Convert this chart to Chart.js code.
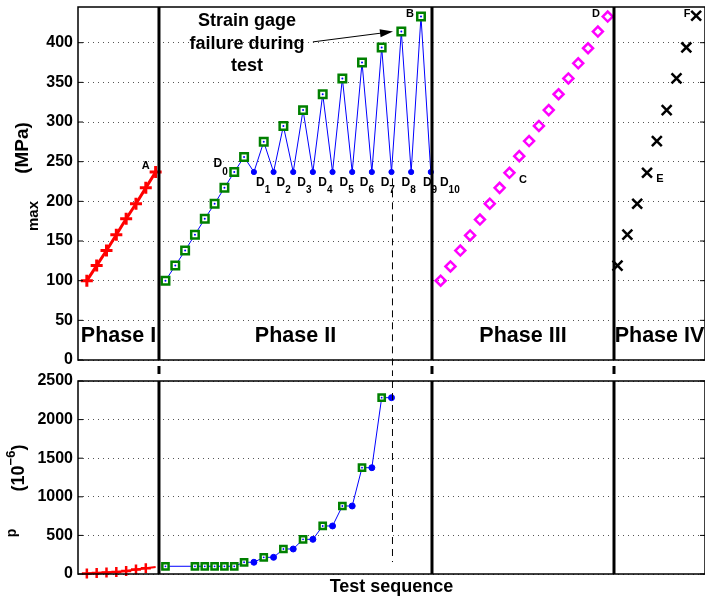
<!DOCTYPE html>
<html>
<head>
<meta charset="utf-8">
<script src="https://cdn.jsdelivr.net/npm/chart.js@4.4.1/dist/chart.umd.min.js"></script>
<style>
  html, body { margin: 0; padding: 0; background: #fff; }
  #wrap { position: relative; width: 705px; height: 603px; }
  canvas { position: absolute; left: 0; }
  #top { top: 0; }
  #bottom { top: 366px; }
</style>
</head>
<body>
<div id="wrap">
  <canvas id="top" width="705" height="376"></canvas>
  <canvas id="bottom" width="705" height="237"></canvas>
</div>
<script>
// valori: x = indice della sequenza di prova
const seqPhaseI = [1, 2, 3, 4, 5, 6, 7, 8];
const stressPhaseI = [100, 119, 138, 158, 178, 197, 217, 237];

const seqRamp = [9, 10, 11, 12, 13, 14, 15, 16];
const stressRamp = [100, 119, 138, 158, 178, 197, 217, 237];
const seqPeak = [17, 19, 21, 23, 25, 27, 29, 31, 33, 35];
const stressPeak = [256, 275, 295, 315, 335, 355, 375, 394, 414, 433];
const seqValley = [18, 20, 22, 24, 26, 28, 30, 32, 34, 36];
const stressValley = [237, 237, 237, 237, 237, 237, 237, 237, 237, 237];

const seqPhaseIII = [37, 38, 39, 40, 41, 42, 43, 44, 45, 46, 47, 48, 49, 50, 51, 52, 53, 54];
const stressPhaseIII = [100, 118, 138, 157, 177, 197, 217, 236, 257, 276, 295, 315, 335, 355, 374, 393, 414, 433];
const seqPhaseIV = [55, 56, 57, 58, 59, 60, 61, 62, 63];
const stressPhaseIV = [119, 158, 197, 236, 276, 315, 355, 394, 434];

// deformazione plastica (1e-6)
const strainSeqI = [1, 2, 3, 4, 5, 6, 7, 8];
const strainI = [8, 12, 18, 26, 40, 58, 75, 90];
const strainSeqSquare = [9, 12, 13, 14, 15, 16, 17, 19, 21, 23, 25, 27, 29, 31];
const strainSquare = [100, 100, 100, 100, 100, 100, 152, 216, 324, 449, 622, 881, 1377, 2284];
const strainSeqCircle = [18, 20, 22, 24, 26, 28, 30, 32];
const strainCircle = [152, 216, 324, 449, 622, 881, 1377, 2284];

const stressTicks = [0, 50, 100, 150, 200, 250, 300, 350, 400];
const strainTicks = [0, 500, 1000, 1500, 2000, 2500];

const phaseNames = ['Phase I', 'Phase II', 'Phase III', 'Phase IV'];
const phaseEdges = [8.34, 36.12, 54.64];
const failureSeq = 32.1;

// etichette (coordinate in unita' dati)
const pointLetters = [
  { t: 'A', x: 7.0, y: 245 }, { t: 'B', x: 33.88, y: 436 }, { t: 'C', x: 45.38, y: 227 },
  { t: 'D', x: 52.8, y: 436 }, { t: 'E', x: 59.32, y: 228 }, { t: 'F', x: 62.07, y: 436 }
];
const dLabels = [
  { n: '0', x: 14.34, y: 247 }, { n: '1', x: 18.65, y: 224 }, { n: '2', x: 20.75, y: 224 },
  { n: '3', x: 22.85, y: 224 }, { n: '4', x: 24.99, y: 224 }, { n: '5', x: 27.16, y: 224 },
  { n: '6', x: 29.22, y: 224 }, { n: '7', x: 31.34, y: 224 }, { n: '8', x: 33.47, y: 224 },
  { n: '9', x: 35.64, y: 224 }, { n: '10', x: 37.37, y: 224 }
];
const noteLines = ['Strain gage', 'failure during', 'test'];
const noteAt = { x: 17.3, y: 421 };
const arrowFrom = { x: 24.0, y: 401 };
const arrowTo = { x: 32.15, y: 414 };

const X_MIN = 0.1, X_MAX = 63.9;
const FONT = '"Liberation Sans", Arial, Helvetica, sans-serif';
const RED = '#ff0000', BLUE = '#0000ff', GREEN = '#008000', MAGENTA = '#ff00ff', GRID = '#555';

Chart.defaults.font.family = FONT;
Chart.defaults.color = '#000';

const pts = (xs, ys) => xs.map((x, i) => ({ x, y: ys[i] }));

const squaresTop = pts(seqRamp, stressRamp).concat(pts(seqPeak, stressPeak));
const blueLineTop = squaresTop.concat(pts(seqValley, stressValley)).sort((a, b) => a.x - b.x);
const squaresBottom = pts(strainSeqSquare, strainSquare);
const blueLineBottom = squaresBottom.concat(pts(strainSeqCircle, strainCircle)).sort((a, b) => a.x - b.x);

function line(ctx, x1, y1, x2, y2) {
  ctx.beginPath(); ctx.moveTo(x1, y1); ctx.lineTo(x2, y2); ctx.stroke();
}

function label(ctx, t, x, y, size, align, baseline) {
  ctx.font = 'bold ' + size + 'px ' + FONT;
  ctx.textAlign = align || 'center';
  ctx.textBaseline = baseline || 'middle';
  ctx.fillText(t, x, y);
}

// testo ruotato composto da pezzi (per pedici/apici)
function rotatedRuns(ctx, cx, cy, runs) {
  ctx.save();
  ctx.translate(cx, cy);
  ctx.rotate(-Math.PI / 2);
  let total = 0;
  runs.forEach(r => { ctx.font = 'bold ' + r.size + 'px ' + FONT; r.w = ctx.measureText(r.t).width; total += r.w; });
  let x = -total / 2;
  ctx.textAlign = 'left'; ctx.textBaseline = 'alphabetic';
  runs.forEach(r => { ctx.font = 'bold ' + r.size + 'px ' + FONT; ctx.fillText(r.t, x, r.dy || 0); x += r.w; });
  ctx.restore();
}

function frame(ctx, a, yScale, ticks) {
  ctx.lineWidth = 1.5;
  ctx.strokeStyle = '#000';
  ctx.strokeRect(a.left, a.top, a.right - a.left, a.bottom - a.top);
  ctx.lineWidth = 1;
  ticks.forEach(v => {
    const py = yScale.getPixelForValue(v);
    line(ctx, a.left, py, a.left + 5, py);
    line(ctx, a.right - 5, py, a.right, py);
  });
}

function phaseLines(ctx, a, xScale, withGap) {
  ctx.strokeStyle = '#000';
  ctx.lineWidth = 3;
  phaseEdges.forEach(v => {
    const px = xScale.getPixelForValue(v);
    line(ctx, px, a.top, px, a.bottom);
    if (withGap) line(ctx, px, a.bottom + 6, px, a.bottom + 14);
  });
}

const topDecor = {
  id: 'topDecor',
  afterDatasetsDraw(chart) {
    const { ctx, chartArea: a, scales: { x, y } } = chart;
    ctx.save();
    ctx.fillStyle = '#000';
    ctx.strokeStyle = '#000';

    ctx.lineWidth = 1;
    ctx.setLineDash([7, 5]);
    const fx = x.getPixelForValue(failureSeq);
    line(ctx, fx, y.getPixelForValue(229), fx, chart.height);
    ctx.setLineDash([]);

    phaseLines(ctx, a, x, true);
    frame(ctx, a, y, stressTicks);

    const edges = [X_MIN].concat(phaseEdges, [X_MAX]);
    phaseNames.forEach((n, i) => {
      const px = (x.getPixelForValue(edges[i]) + x.getPixelForValue(edges[i + 1])) / 2;
      label(ctx, n, px, a.bottom - 18, 21.5, 'center', 'alphabetic');
    });

    pointLetters.forEach(p => label(ctx, p.t, x.getPixelForValue(p.x), y.getPixelForValue(p.y), 11));

    dLabels.forEach(d => {
      const px = x.getPixelForValue(d.x), py = y.getPixelForValue(d.y);
      label(ctx, 'D', px, py, 12);
      const w = ctx.measureText('D').width;
      label(ctx, d.n, px + w / 2, py + 8, 10, 'left');
    });

    const nx = x.getPixelForValue(noteAt.x), ny = y.getPixelForValue(noteAt.y);
    noteLines.forEach((t, i) => label(ctx, t, nx, ny + i * 22.5, 18, 'center', 'alphabetic'));

    const x1 = x.getPixelForValue(arrowFrom.x), y1 = y.getPixelForValue(arrowFrom.y);
    const x2 = x.getPixelForValue(arrowTo.x), y2 = y.getPixelForValue(arrowTo.y);
    const ang = Math.atan2(y2 - y1, x2 - x1);
    ctx.lineWidth = 1;
    line(ctx, x1, y1, x2 - 10 * Math.cos(ang), y2 - 10 * Math.sin(ang));
    ctx.beginPath();
    ctx.moveTo(x2, y2);
    ctx.lineTo(x2 - 13 * Math.cos(ang) + 4 * Math.sin(ang), y2 - 13 * Math.sin(ang) - 4 * Math.cos(ang));
    ctx.lineTo(x2 - 13 * Math.cos(ang) - 4 * Math.sin(ang), y2 - 13 * Math.sin(ang) + 4 * Math.cos(ang));
    ctx.closePath();
    ctx.fill();

    rotatedRuns(ctx, 28, 148, [{ t: '(MPa)', size: 19 }]);
    rotatedRuns(ctx, 38, 216, [{ t: 'max', size: 15 }]);
    ctx.restore();
  }
};

const bottomDecor = {
  id: 'bottomDecor',
  afterDatasetsDraw(chart) {
    const { ctx, chartArea: a, scales: { x, y } } = chart;
    ctx.save();
    ctx.fillStyle = '#000';
    ctx.strokeStyle = '#000';
    ctx.lineWidth = 1;
    ctx.setLineDash([7, 5]);
    const fx = x.getPixelForValue(failureSeq);
    line(ctx, fx, a.top, fx, y.getPixelForValue(155));
    ctx.setLineDash([]);

    phaseLines(ctx, a, x, false);
    frame(ctx, a, y, strainTicks);

    rotatedRuns(ctx, 16, 167, [{ t: 'p', size: 14 }]);
    rotatedRuns(ctx, 24, 102, [{ t: '(10', size: 18 }, { t: '\u22126', size: 13, dy: -9 }, { t: ')', size: 18 }]);
    ctx.restore();
  }
};

function yAxis(max, ticks) {
  return {
    min: 0, max: max,
    afterBuildTicks: s => { s.ticks = ticks.map(v => ({ value: v })); },
    afterFit: s => { s.width = 78; s.paddingTop = 0; s.paddingBottom = 0; },
    grid: { color: GRID, lineWidth: 1, drawTicks: false },
    border: { display: false, dash: [1, 4] },
    ticks: { color: '#000', font: { size: 16, weight: 'bold' }, padding: 5, callback: v => String(v) }
  };
}

const common = {
  responsive: false,
  animation: false,
  events: [],
  plugins: { legend: { display: false }, tooltip: { enabled: false } }
};

new Chart(document.getElementById('top'), {
  type: 'scatter',
  data: {
    datasets: [
      { data: pts(seqPhaseI, stressPhaseI), showLine: true, borderColor: RED, borderWidth: 3,
        pointStyle: 'cross', pointRadius: 6, pointBorderWidth: 3, pointBorderColor: RED, order: 1 },
      { data: blueLineTop, showLine: true, borderColor: BLUE, borderWidth: 1, pointRadius: 0, order: 6 },
      { data: pts(seqValley, stressValley), pointStyle: 'circle', pointRadius: 2.6,
        pointBackgroundColor: BLUE, pointBorderColor: BLUE, pointBorderWidth: 1, order: 5 },
      { data: squaresTop, pointStyle: 'rect', pointRadius: 5.3, pointBorderWidth: 2.5,
        pointBorderColor: GREEN, pointBackgroundColor: '#fff', order: 4 },
      { data: squaresTop, pointRadius: 1, pointBackgroundColor: BLUE, pointBorderWidth: 0, order: 3 },
      { data: pts(seqPhaseIII, stressPhaseIII), pointStyle: 'rectRot', pointRadius: 5, pointBorderWidth: 2.5,
        pointBorderColor: MAGENTA, pointBackgroundColor: 'rgba(0,0,0,0)', order: 2 },
      { data: pts(seqPhaseIV, stressPhaseIV), pointStyle: 'crossRot', pointRadius: 7, pointBorderWidth: 2.5,
        pointBorderColor: '#000', order: 2 }
    ]
  },
  options: Object.assign({}, common, {
    layout: { autoPadding: false, padding: { top: 7, right: 0, bottom: 16, left: 0 } },
    scales: {
      x: { type: 'linear', min: X_MIN, max: X_MAX, display: false },
      y: yAxis(445, stressTicks)
    }
  }),
  plugins: [topDecor]
});

new Chart(document.getElementById('bottom'), {
  type: 'scatter',
  data: {
    datasets: [
      { data: pts(strainSeqI, strainI), showLine: true, clip: false, borderColor: RED, borderWidth: 2,
        pointStyle: 'cross', pointRadius: c => (c.dataIndex === strainSeqI.length - 1 ? 0 : 5),
        pointBorderWidth: 2.5, pointBorderColor: RED, order: 1 },
      { data: blueLineBottom, showLine: true, borderColor: BLUE, borderWidth: 1, pointRadius: 0, order: 6 },
      { data: pts(strainSeqCircle, strainCircle), pointStyle: 'circle', pointRadius: 3,
        pointBackgroundColor: BLUE, pointBorderColor: BLUE, pointBorderWidth: 1, order: 5 },
      { data: squaresBottom, pointStyle: 'rect', pointRadius: 4.4, pointBorderWidth: 2.5,
        pointBorderColor: GREEN, pointBackgroundColor: '#fff', order: 4 },
      { data: squaresBottom, pointRadius: 0.9, pointBackgroundColor: BLUE, pointBorderWidth: 0, order: 3 }
    ]
  },
  options: Object.assign({}, common, {
    layout: { autoPadding: false, padding: { top: 15, right: 0, bottom: 0, left: 0 } },
    scales: {
      x: {
        type: 'linear', min: X_MIN, max: X_MAX,
        ticks: { display: false }, grid: { display: false }, border: { display: false },
        title: { display: true, text: 'Test sequence', color: '#000', font: { size: 18, weight: 'bold' },
                 padding: { top: 0, bottom: 5 } },
        afterFit: s => { s.height = 29; s.paddingLeft = 0; s.paddingRight = 0; }
      },
      y: yAxis(2500, strainTicks)
    }
  }),
  plugins: [bottomDecor]
});
</script>
</body>
</html>
